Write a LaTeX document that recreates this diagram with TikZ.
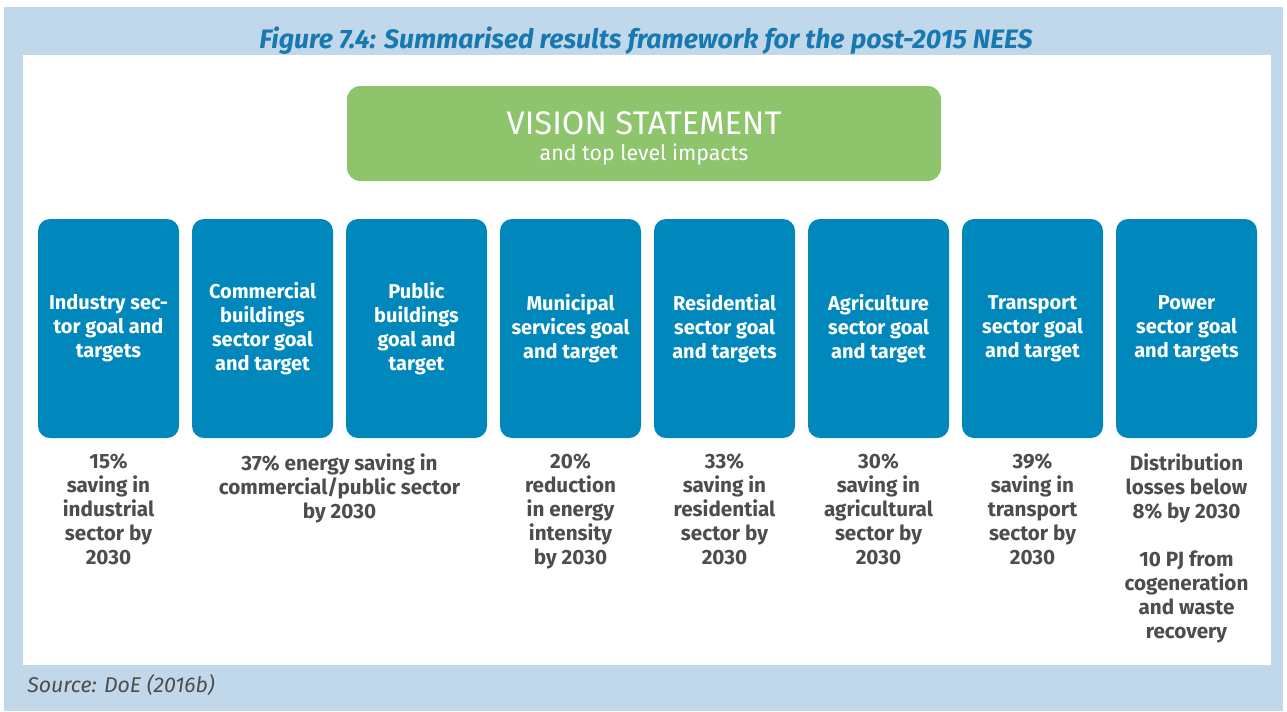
\documentclass[tikz,border=0pt]{standalone}
\usepackage{fontspec}
\setmainfont{Fira Sans}
\usepackage{tikz}

\definecolor{panelblue}{HTML}{C0D8EA}
\definecolor{visiongreen}{HTML}{8DC46C}
\definecolor{sectorblue}{HTML}{0088BD}
\definecolor{titleblue}{HTML}{1878B0}
\definecolor{textgray}{HTML}{4D4D4D}

\begin{document}
\begin{tikzpicture}[x=0.75pt, y=-0.75pt,
  sector/.style={fill=sectorblue, rounded corners=9pt, minimum width=105.75pt,
    minimum height=164.25pt, text=white, align=center, font=\fontsize{15}{18}\selectfont\bfseries},
  target/.style={anchor=north, text=textgray, align=center, inner sep=0pt,
    font=\fontsize{15.5}{18}\selectfont\bfseries}]
  \useasboundingbox (0,0) rectangle (1287,711);
  \fill[white] (0,0) rectangle (1287,711);
  \fill[panelblue] (4,7) rectangle (1283,711);
  \fill[white] (23,55) rectangle (1271,665);
  \node[text=titleblue, font=\fontsize{20}{22}\selectfont\bfseries\itshape] (title) at (646,41)
    {Figure 7.4: Summarised results framework for the post-2015 NEES};

  % vision
  \node[fill=visiongreen, rounded corners=10pt, minimum width=445.5pt, minimum height=71.25pt]
    (vision) at (644,133.5) {};
  \node[text=white, align=center, font=\fontsize{24.5}{19}\selectfont] (visiontext)
    at ([yshift=-3.5pt]vision.center)
    {VISION STATEMENT\\{\fontsize{16}{19}\selectfont and top level impacts}};

  % sectors
  \node[sector] (industry) at (108.5,328.5) {Industry sec-\\tor goal and\\targets};
  \node[sector] (commercial) at (262.5,328.5) {Commercial\\buildings\\sector goal\\and target};
  \node[sector] (public) at (416.5,328.5) {Public\\buildings\\goal and\\target};
  \node[sector] (municipal) at (570.5,328.5) {Municipal\\services goal\\and target};
  \node[sector] (residential) at (724.5,328.5) {Residential\\sector goal\\and targets};
  \node[sector] (agriculture) at (878.5,328.5) {Agriculture\\sector goal\\and target};
  \node[sector] (transport) at (1032.5,328.5) {Transport\\sector goal\\and target};
  \node[sector] (power) at (1186.5,328.5) {Power\\sector goal\\and targets};

  % targets
  \node[target] (industryT) at (108.5,453) {15\%\\saving in\\industrial\\sector by\\2030};
  \node[target] (commpubT) at (339.5,453) {37\% energy saving in\\commercial/public sector\\by 2030};
  \node[target] (municipalT) at (570.5,453) {20\%\\reduction\\in energy\\intensity\\by 2030};
  \node[target] (residentialT) at (724.5,453) {33\%\\saving in\\residential\\sector by\\2030};
  \node[target] (agricultureT) at (878.5,453) {30\%\\saving in\\agricultural\\sector by\\2030};
  \node[target] (transportT) at (1032.5,453) {39\%\\saving in\\transport\\sector by\\2030};
  \node[target] (powerT) at (1186.5,453) {Distribution\\losses below\\8\% by 2030\\[18pt]10 PJ from\\cogeneration\\and waste\\recovery};

  \node[anchor=west, text=textgray, inner sep=0pt, font=\fontsize{16}{18}\selectfont\itshape] (source)
    at (27,685) {Source: DoE (2016b)};
\end{tikzpicture}
\end{document}
